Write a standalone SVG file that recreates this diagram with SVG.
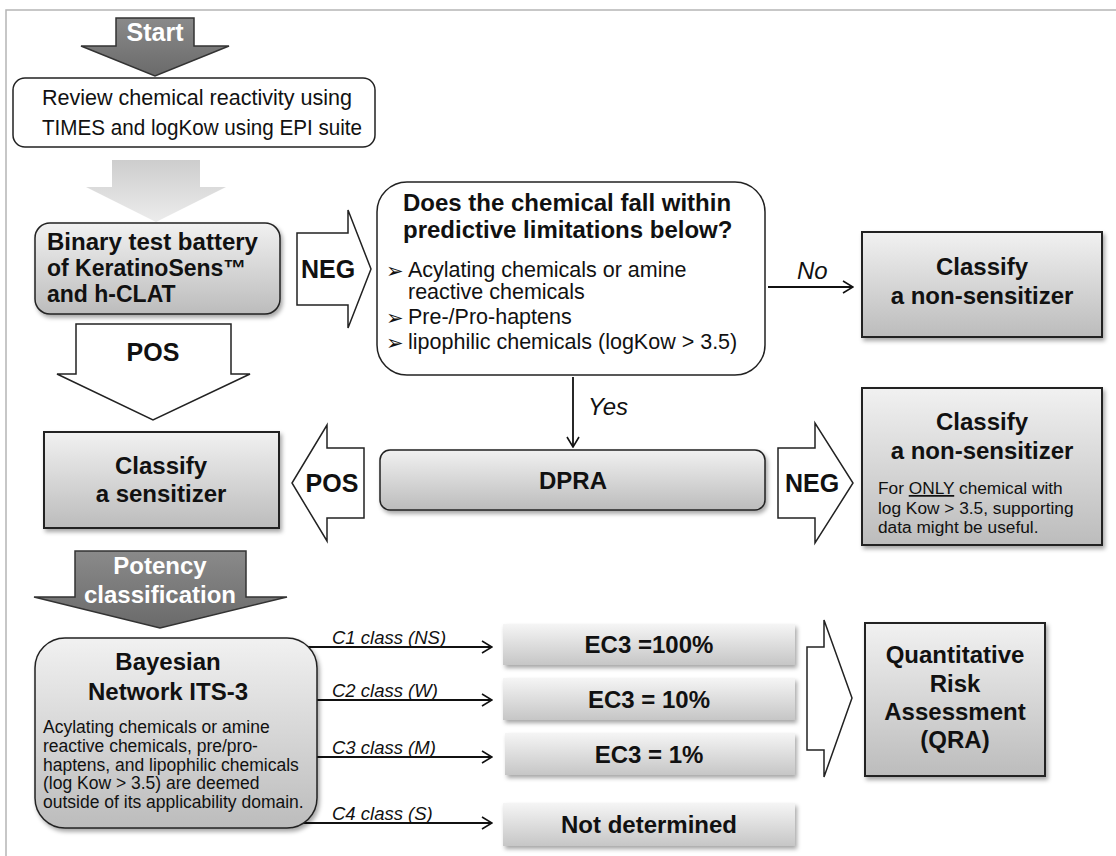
<svg xmlns="http://www.w3.org/2000/svg" width="1116" height="856" viewBox="0 0 1116 856">
<defs>
<linearGradient id="gBox" x1="0" y1="0" x2="0" y2="1"><stop offset="0" stop-color="#f1f1f1"/><stop offset="1" stop-color="#bcbcbc"/></linearGradient>
<linearGradient id="gEc" x1="0" y1="0" x2="0" y2="1"><stop offset="0" stop-color="#f5f5f5"/><stop offset="1" stop-color="#c6c6c6"/></linearGradient>
<linearGradient id="gDark" x1="0" y1="0" x2="0" y2="1"><stop offset="0" stop-color="#8a8a8a"/><stop offset="1" stop-color="#6a6a6a"/></linearGradient>
<linearGradient id="gLight" x1="0" y1="0" x2="0" y2="1"><stop offset="0" stop-color="#cdcdcd"/><stop offset="1" stop-color="#ececec"/></linearGradient>
<filter id="sh" x="-10%" y="-10%" width="130%" height="140%"><feDropShadow dx="2" dy="3" stdDeviation="2" flood-color="#000" flood-opacity="0.35"/></filter>
<marker id="v" viewBox="0 0 12 14" refX="11" refY="7" markerWidth="12" markerHeight="14" markerUnits="userSpaceOnUse" orient="auto"><path d="M1,1 L11,7 L1,13" fill="none" stroke="#111" stroke-width="1.6"/></marker>
</defs>
<style>
.t{font-family:"Liberation Sans",Arial,sans-serif;fill:#111}
.b{font-weight:bold;font-size:24px}
.w{fill:#fff}
.r{font-size:21.5px}
.s{font-size:17.3px}
.i{font-style:italic}
.c{text-anchor:middle}
.box{stroke:#222;stroke-width:2}
.rbox{stroke:#222;stroke-width:1.5}
.conn{stroke:#111;stroke-width:1.8;fill:none}
.blk{fill:#fff;stroke:#222;stroke-width:1.5}
.dk{fill:url(#gDark);stroke:#333;stroke-width:1.5}
.bul{font-family:"DejaVu Sans",sans-serif;font-size:21px;fill:#111}
</style>
<rect x="6" y="10" width="1200" height="900" fill="none" stroke="#b5b5b5" stroke-width="1.5"/>

<g id="connectors">
  <g id="arrow-start">
    <polygon class="dk" points="116,18 194,18 194,46 229,46 155,76 81,46 116,46"/>
    <text class="t b w c" x="155" y="41" style="font-size:25px">Start</text>
  </g>
  <polygon id="arrow-review" fill="url(#gLight)" points="112,160 200,160 200,187 226,187 156,222 86,187 112,187"/>
  <g id="arrow-neg1">
    <polygon class="blk" points="297,233 348,233 348,210 371,269 348,328 348,305 297,305"/>
    <text class="t b c" x="328" y="278" style="font-size:25px">NEG</text>
  </g>
  <g id="arrow-pos-down">
    <polygon class="blk" points="76,324 231,324 231,374 250,374 153,420 57,374 76,374"/>
    <text class="t b c" x="153" y="361" style="font-size:25px">POS</text>
  </g>
  <g id="arrow-pos-left">
    <polygon class="blk" points="364,448 327,448 327,425 292,483 327,541 327,518 364,518"/>
    <text class="t b c" x="332" y="492" style="font-size:25px">POS</text>
  </g>
  <g id="arrow-neg2">
    <polygon class="blk" points="778,448 815,448 815,423 853,483 815,543 815,518 778,518"/>
    <text class="t b c" x="812" y="492" style="font-size:25px">NEG</text>
  </g>
  <g id="arrow-potency">
    <polygon class="dk" points="75,551 246,551 246,597 287,597 160,628 34,597 75,597"/>
    <text class="t b w c" x="160" y="574">Potency</text>
    <text class="t b w c" x="160" y="603">classification</text>
  </g>
  <polygon id="arrow-qra" class="blk" points="807,647 824,647 824,620 852,698 824,777 824,750 807,750"/>
  <line class="conn" x1="768" y1="287" x2="853" y2="287" marker-end="url(#v)"/>
  <text class="t i" x="797" y="279" style="font-size:24px">No</text>
  <line class="conn" x1="573" y1="377" x2="573" y2="447" marker-end="url(#v)"/>
  <text class="t i" x="588" y="415" style="font-size:24px">Yes</text>
  <line class="conn" x1="300" y1="647" x2="492" y2="647" marker-end="url(#v)"/>
  <line class="conn" x1="300" y1="700" x2="492" y2="700" marker-end="url(#v)"/>
  <line class="conn" x1="300" y1="757" x2="492" y2="757" marker-end="url(#v)"/>
  <line class="conn" x1="300" y1="823" x2="492" y2="823" marker-end="url(#v)"/>
  <text class="t i" x="332" y="644" style="font-size:18.5px">C1 class (NS)</text>
  <text class="t i" x="332" y="697" style="font-size:18.5px">C2 class (W)</text>
  <text class="t i" x="332" y="754" style="font-size:18.5px">C3 class (M)</text>
  <text class="t i" x="332" y="820" style="font-size:18.5px">C4 class (S)</text>
</g>

<g id="review">
  <rect x="13" y="78" width="362" height="69" rx="12" fill="#fff" class="rbox"/>
  <text class="t r" x="42" y="105" textLength="310" lengthAdjust="spacingAndGlyphs">Review chemical reactivity using</text>
  <text class="t r" x="42" y="135" textLength="320" lengthAdjust="spacingAndGlyphs">TIMES and logKow using EPI suite</text>
</g>

<g id="binary">
  <rect x="35" y="223" width="245" height="91" rx="15" fill="url(#gBox)" class="rbox" filter="url(#sh)"/>
  <text class="t b" x="47" y="250" style="font-size:23px" textLength="211" lengthAdjust="spacingAndGlyphs">Binary test battery</text>
  <text class="t b" x="47" y="276" style="font-size:23px">of KeratinoSens™</text>
  <text class="t b" x="47" y="302" style="font-size:23px">and h-CLAT</text>
</g>

<g id="question">
  <rect x="377" y="182" width="388" height="193" rx="30" fill="#fff" class="rbox"/>
  <text class="t b" x="403" y="211">Does the chemical fall within</text>
  <text class="t b" x="403" y="238">predictive limitations below?</text>
  <text class="bul" x="386" y="278">➢</text>
  <text class="t r" x="408" y="277">Acylating chemicals or amine</text>
  <text class="t r" x="408" y="299">reactive chemicals</text>
  <text class="bul" x="386" y="325">➢</text>
  <text class="t r" x="408" y="324">Pre-/Pro-haptens</text>
  <text class="bul" x="386" y="350">➢</text>
  <text class="t r" x="408" y="349">lipophilic chemicals (logKow &gt; 3.5)</text>
</g>

<g id="nonsens1">
  <rect x="862" y="232" width="240" height="105" fill="url(#gBox)" class="box" filter="url(#sh)"/>
  <text class="t b c" x="982" y="275">Classify</text>
  <text class="t b c" x="982" y="304">a non-sensitizer</text>
</g>

<g id="sensitizer">
  <rect x="44" y="432" width="235" height="96" fill="url(#gBox)" class="box" filter="url(#sh)"/>
  <text class="t b c" x="161" y="474">Classify</text>
  <text class="t b c" x="161" y="502">a sensitizer</text>
</g>

<g id="dpra">
  <rect x="380" y="450" width="385" height="60" rx="10" fill="url(#gBox)" class="rbox" filter="url(#sh)"/>
  <text class="t b c" x="573" y="489">DPRA</text>
</g>

<g id="nonsens2">
  <rect x="862" y="388" width="240" height="157" fill="url(#gBox)" class="box" filter="url(#sh)"/>
  <text class="t b c" x="982" y="430">Classify</text>
  <text class="t b c" x="982" y="459">a non-sensitizer</text>
  <text class="t s" x="878" y="494">For <tspan style="text-decoration:underline">ONLY</tspan> chemical with</text>
  <text class="t s" x="878" y="514">log Kow &gt; 3.5, supporting</text>
  <text class="t s" x="878" y="533">data might be useful.</text>
</g>

<g id="bayesian">
  <rect x="35" y="638" width="282" height="190" rx="30" fill="url(#gBox)" class="rbox" filter="url(#sh)"/>
  <text class="t b c" x="168" y="670">Bayesian</text>
  <text class="t b c" x="168" y="700">Network ITS-3</text>
  <text class="t" x="43" y="733" style="font-size:17.5px">Acylating chemicals or amine</text>
  <text class="t" x="43" y="752" style="font-size:17.5px">reactive chemicals, pre/pro-</text>
  <text class="t" x="43" y="771" style="font-size:17.5px">haptens, and lipophilic chemicals</text>
  <text class="t" x="43" y="789" style="font-size:17.5px">(log Kow &gt; 3.5) are deemed</text>
  <text class="t" x="43" y="808" style="font-size:17.5px">outside of its applicability domain.</text>
</g>

<g id="ec3-100">
  <rect x="503" y="624" width="292" height="41" fill="url(#gEc)" filter="url(#sh)"/>
  <text class="t b c" x="649" y="653">EC3 =100%</text>
</g>
<g id="ec3-10">
  <rect x="503" y="678" width="292" height="42" fill="url(#gEc)" filter="url(#sh)"/>
  <text class="t b c" x="649" y="708">EC3 = 10%</text>
</g>
<g id="ec3-1">
  <rect x="505" y="733" width="290" height="42" fill="url(#gEc)" filter="url(#sh)"/>
  <text class="t b c" x="649" y="763">EC3 = 1%</text>
</g>
<g id="not-determined">
  <rect x="503" y="803" width="292" height="43" fill="url(#gEc)" filter="url(#sh)"/>
  <text class="t b c" x="649" y="833">Not determined</text>
</g>

<g id="qra">
  <rect x="865" y="623" width="180" height="153" fill="url(#gBox)" class="box" filter="url(#sh)"/>
  <text class="t b c" x="955" y="663">Quantitative</text>
  <text class="t b c" x="955" y="692">Risk</text>
  <text class="t b c" x="955" y="720">Assessment</text>
  <text class="t b c" x="955" y="748">(QRA)</text>
</g>
</svg>
